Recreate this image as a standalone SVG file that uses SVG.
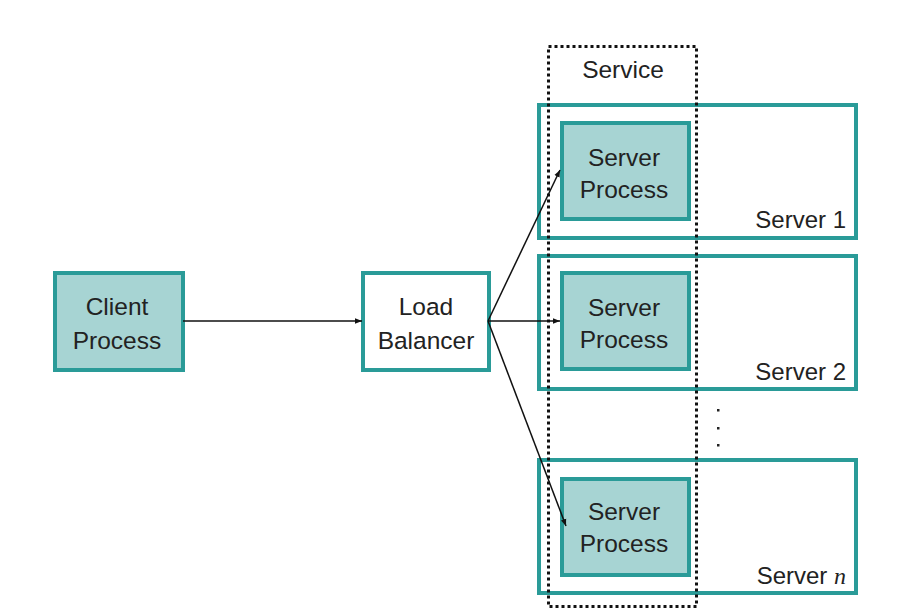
<svg xmlns="http://www.w3.org/2000/svg" width="902" height="614" viewBox="0 0 902 614">
<defs>
<style>
.box{stroke:#2a9b98;stroke-width:4;}
.proc{fill:#a7d4d3;}
.white{fill:#ffffff;}
.t{font-family:"Liberation Sans",Arial,sans-serif;font-size:24.5px;fill:#222;text-anchor:middle;}
.lbl{font-family:"Liberation Sans",Arial,sans-serif;font-size:24px;fill:#222;text-anchor:end;}
.edge{stroke:#111;stroke-width:1.5;fill:none;marker-end:url(#ah);}
</style>
<marker id="ah" viewBox="0 0 10 10" refX="10" refY="5" markerWidth="7" markerHeight="7" markerUnits="userSpaceOnUse" orient="auto">
<path d="M0,1 L10,5 L0,9 z" fill="#111"/>
</marker>
</defs>
<rect width="902" height="614" fill="#ffffff"/>
<g id="server1">
<rect class="box white" x="539" y="105" width="317" height="133"/>
<text class="lbl" x="846" y="228">Server 1</text>
</g>
<g id="server2">
<rect class="box white" x="539" y="256" width="317" height="133"/>
<text class="lbl" x="846" y="380">Server 2</text>
</g>
<g id="servern">
<rect class="box white" x="539" y="460" width="317" height="133"/>
<text class="lbl" x="846" y="584">Server <tspan font-family="'Liberation Serif',serif" font-style="italic">n</tspan></text>
</g>
<g id="dots" fill="#222">
<rect x="717" y="409" width="2.5" height="2.5"/>
<rect x="717" y="427" width="2.5" height="2.5"/>
<rect x="717" y="444" width="2.5" height="2.5"/>
</g>
<g id="client">
<rect class="box proc" x="55" y="273" width="128" height="97"/>
<text class="t" x="117" y="315">Client</text>
<text class="t" x="117" y="349">Process</text>
</g>
<g id="lb">
<rect class="box white" x="363" y="273" width="126" height="97"/>
<text class="t" x="426" y="315">Load</text>
<text class="t" x="426" y="349">Balancer</text>
</g>
<g id="sp1">
<rect class="box proc" x="562" y="123" width="127" height="96"/>
<text class="t" x="624" y="166">Server</text>
<text class="t" x="624" y="198">Process</text>
</g>
<g id="sp2">
<rect class="box proc" x="562" y="273" width="127" height="96"/>
<text class="t" x="624" y="316">Server</text>
<text class="t" x="624" y="348">Process</text>
</g>
<g id="spn">
<rect class="box proc" x="562" y="479" width="127" height="96"/>
<text class="t" x="624" y="520">Server</text>
<text class="t" x="624" y="552">Process</text>
</g>
<g id="service">
<rect x="548.5" y="46.5" width="148" height="560" fill="none" stroke="#111" stroke-width="3" stroke-dasharray="3 3"/>
<text class="t" x="623" y="78">Service</text>
</g>
<g id="connectors">
<path class="edge" d="M183,321 L362,321"/>
<path class="edge" d="M488,321 L560,170"/>
<path class="edge" d="M488,321 L560,321"/>
<path class="edge" d="M488,321 L566,526"/>
</g>
</svg>
